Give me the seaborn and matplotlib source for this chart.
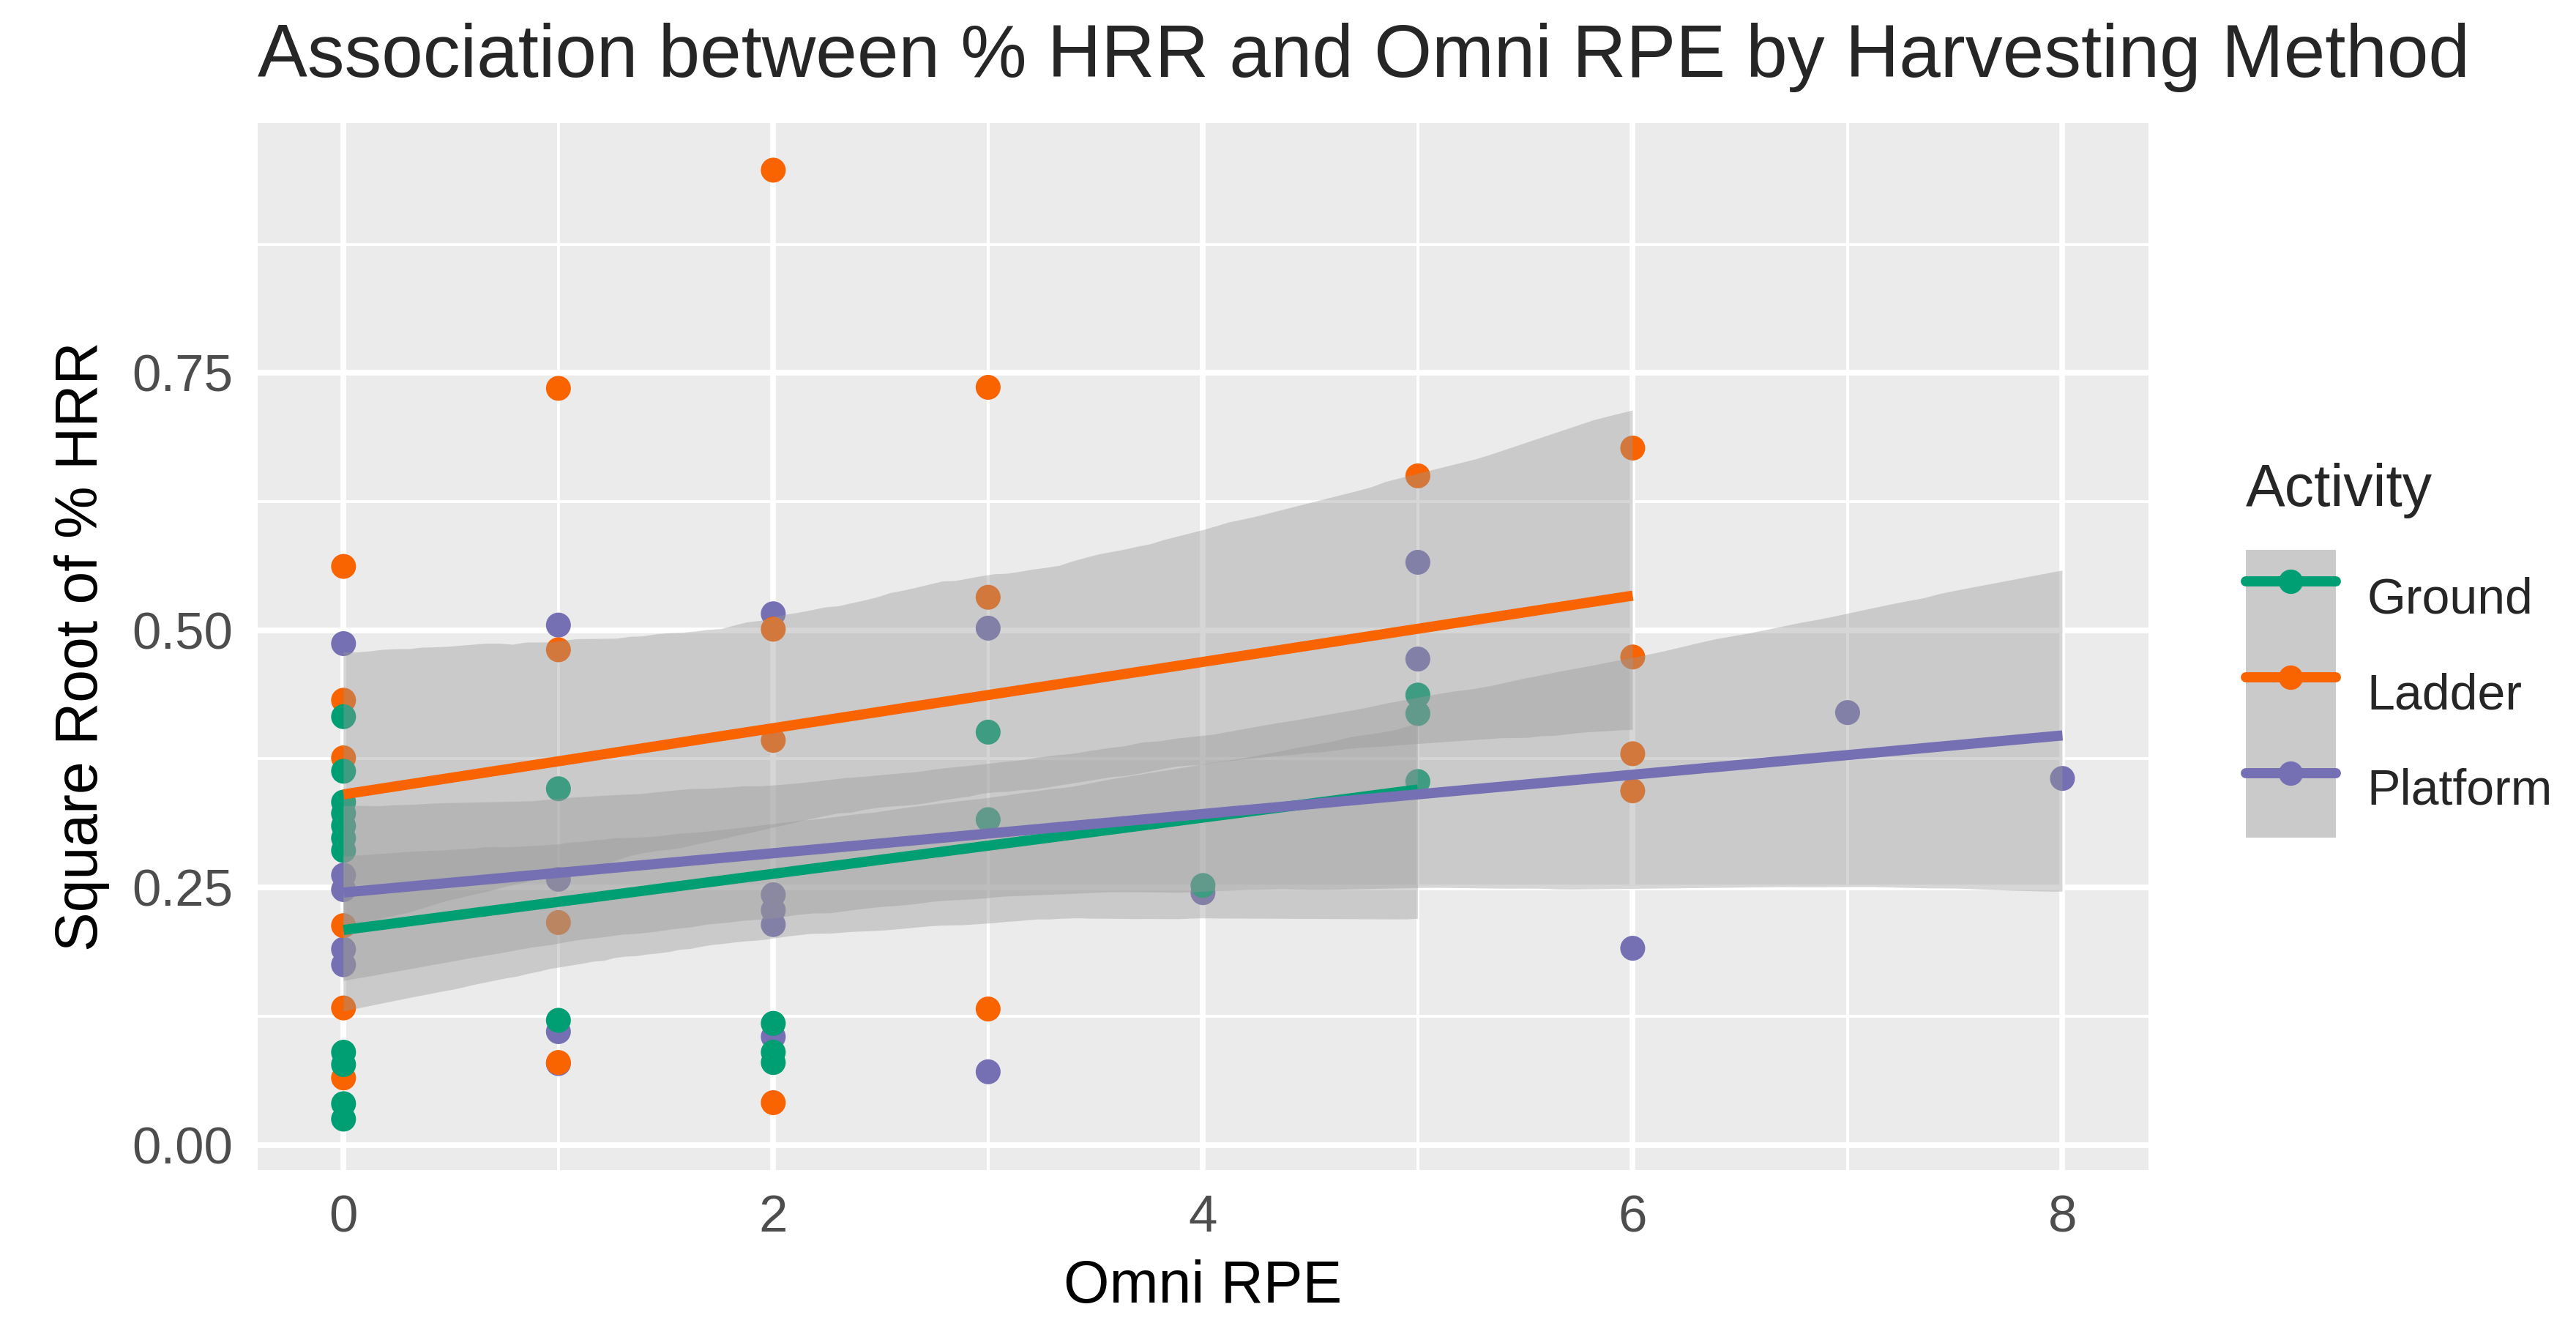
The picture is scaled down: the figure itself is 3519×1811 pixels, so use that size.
import pandas as pd
import seaborn as sns
import matplotlib.pyplot as plt
from matplotlib.lines import Line2D
from matplotlib.patches import Patch
from matplotlib.legend_handler import HandlerTuple
from matplotlib.ticker import FixedLocator

# values
activities = ["Ground", "Ladder", "Platform"]
colors = ["#009E73", "#F96300", "#7570B3"]

ground_rpe = [0, 0, 0, 0, 0, 0, 0, 0, 0, 0, 0, 1, 1, 2, 2, 2, 3, 3, 4, 5, 5, 5]
ground_hrr = [0.416, 0.363, 0.333, 0.322, 0.310, 0.298, 0.286, 0.090, 0.078, 0.040, 0.025,
              0.346, 0.121, 0.118, 0.090, 0.080, 0.401, 0.316, 0.252, 0.437, 0.419, 0.353]

ladder_rpe = [0, 0, 0, 0, 0, 0, 1, 1, 1, 1, 2, 2, 2, 2, 3, 3, 3, 5, 6, 6, 6, 6]
ladder_hrr = [0.562, 0.432, 0.376, 0.213, 0.133, 0.065, 0.735, 0.481, 0.216, 0.080,
              0.947, 0.501, 0.393, 0.041, 0.736, 0.532, 0.132, 0.650, 0.677, 0.474, 0.380, 0.344]

platform_rpe = [0, 0, 0, 0, 0, 1, 1, 1, 1, 2, 2, 2, 2, 2, 3, 3, 4, 5, 5, 6, 7, 8]
platform_hrr = [0.487, 0.262, 0.248, 0.190, 0.175, 0.505, 0.258, 0.110, 0.079,
                0.516, 0.243, 0.228, 0.214, 0.105, 0.502, 0.071, 0.245, 0.566, 0.472, 0.191, 0.420, 0.356]

x_ticks = [0, 2, 4, 6, 8]
y_ticks = [0.00, 0.25, 0.50, 0.75]
y_tick_labels = ["0.00", "0.25", "0.50", "0.75"]

# long table, platform first so ground points sit on top
df = pd.concat([
    pd.DataFrame({"rpe": platform_rpe, "hrr": platform_hrr, "Activity": "Platform"}),
    pd.DataFrame({"rpe": ladder_rpe, "hrr": ladder_hrr, "Activity": "Ladder"}),
    pd.DataFrame({"rpe": ground_rpe, "hrr": ground_hrr, "Activity": "Ground"}),
], ignore_index=True)

sns.set_style("white")
plt.rcParams["font.family"] = ["Liberation Sans", "DejaVu Sans"]

fig, ax = plt.subplots(figsize=(17.595, 9.055), dpi=200)
fig.subplots_adjust(left=0.100, right=0.834, top=0.907, bottom=0.1176)
ax.set_facecolor("#EBEBEB")

palette = dict(zip(activities, colors))
sns.scatterplot(data=df, x="rpe", y="hrr", hue="Activity", palette=palette,
                s=150, linewidth=0, legend=False, ax=ax, zorder=2)

# smooth fits with grey bands, lines on top
for name, col in zip(activities, colors):
    sub = df[df["Activity"] == name]
    sns.regplot(data=sub, x="rpe", y="hrr", scatter=False, ci=95, seed=3,
                color="#999999", truncate=True, ax=ax,
                line_kws={"linewidth": 5.0, "solid_capstyle": "butt"})
    ax.lines[-1].set_color(col)
    ax.lines[-1].set_zorder(5)
    band = ax.collections[-1]
    band.set_facecolor("#999999")
    band.set_edgecolor("none")
    band.set_alpha(0.4)
    band.set_zorder(3)

ax.set_xlim(-0.4, 8.4)
ax.set_ylim(-0.0245, 0.9925)

ax.xaxis.set_major_locator(FixedLocator(x_ticks))
ax.xaxis.set_minor_locator(FixedLocator([1, 3, 5, 7]))
ax.yaxis.set_major_locator(FixedLocator(y_ticks))
ax.yaxis.set_minor_locator(FixedLocator([0.125, 0.375, 0.625, 0.875]))
ax.set_yticklabels(y_tick_labels)
ax.set_axisbelow(True)
ax.grid(which="major", color="white", linewidth=2.8)
ax.grid(which="minor", color="white", linewidth=1.4)
for s in ax.spines.values():
    s.set_visible(False)

ax.tick_params(axis="both", which="major", length=6.5, width=2.4, color="#333333",
               labelsize=25.5, labelcolor="#4D4D4D", pad=5.5)
ax.tick_params(axis="both", which="minor", length=0)

ax.set_xlabel("Omni RPE", fontsize=29, color="black", labelpad=8)
ax.set_ylabel("Square Root of % HRR", fontsize=29, color="black", labelpad=11)
ax.set_title("Association between % HRR and Omni RPE by Harvesting Method",
             fontsize=36.6, loc="left", pad=23)

handles = [(Patch(facecolor="#CACACA", edgecolor="none"),
            Line2D([], [], color=c, linewidth=5.0, marker="o", markersize=12,
                   markeredgewidth=0))
           for c in colors]
leg = fig.legend(handles, activities, title="Activity", loc="upper left",
                 bbox_to_anchor=(0.8718, 0.6512), frameon=False, fontsize=24.5,
                 title_fontsize=29, numpoints=1, handlelength=1.81, handleheight=2.58,
                 labelspacing=0, handletextpad=0.62, borderpad=0, borderaxespad=0,
                 alignment="left", handler_map={tuple: HandlerTuple(ndivide=1, pad=0)})
# gap between legend title and keys
leg._legend_box.sep = 15.7

fig.savefig("out.png", dpi=200)
